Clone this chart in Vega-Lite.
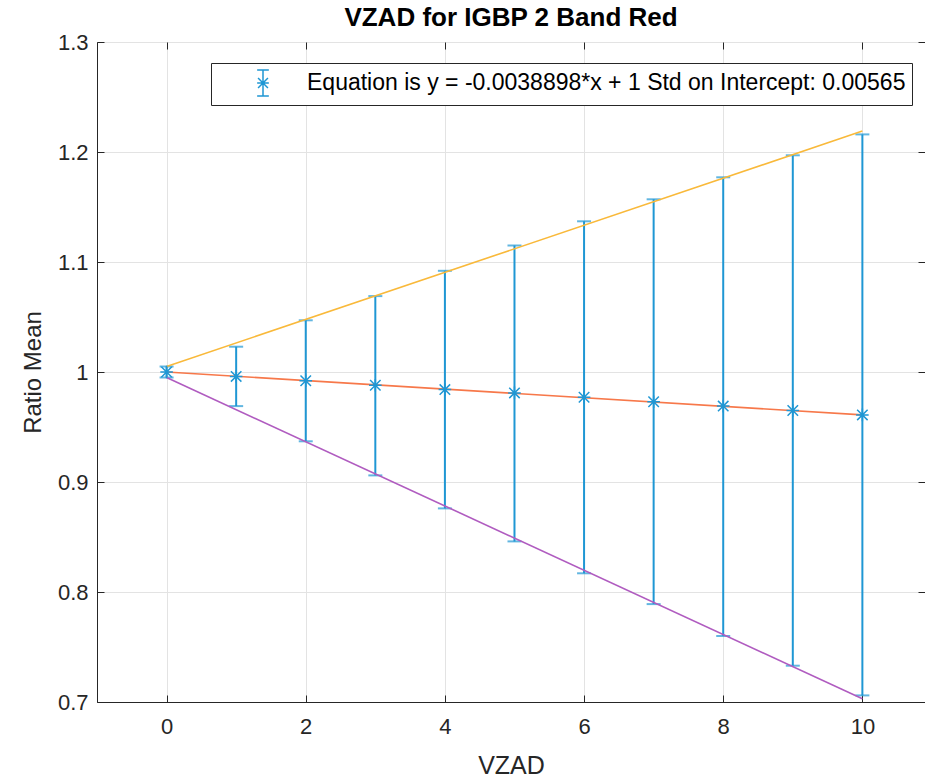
{
  "$schema": "https://vega.github.io/schema/vega-lite/v6.json",
  "width": 828,
  "height": 660,
  "autosize": {"type": "none"},
  "padding": {"left": 97, "top": 42, "right": 0, "bottom": 76},
  "background": "white",
  "title": {
    "text": "VZAD for IGBP 2 Band Red",
    "font": "Liberation Sans",
    "fontSize": 26,
    "fontWeight": "bold",
    "color": "#000000",
    "anchor": "middle",
    "offset": 0
  },
  "config": {
    "view": {"stroke": "#262626", "strokeWidth": 1},
    "axis": {
      "labelFont": "Liberation Sans",
      "titleFont": "Liberation Sans",
      "labelFontSize": 22,
      "titleFontSize": 25,
      "titleFontWeight": "normal",
      "labelColor": "#262626",
      "titleColor": "#262626",
      "domainColor": "#262626",
      "tickColor": "#262626",
      "gridColor": "#e3e3e3",
      "gridWidth": 1
    }
  },
  "datasets": {
    "bars": [
      {"vzad": 0, "mean": 1.000, "lower": 0.995, "upper": 1.005, "series": "Equation is y = -0.0038898*x + 1 Std on Intercept: 0.00565"},
      {"vzad": 1, "mean": 0.996, "lower": 0.969, "upper": 1.023, "series": "Equation is y = -0.0038898*x + 1 Std on Intercept: 0.00565"},
      {"vzad": 2, "mean": 0.992, "lower": 0.937, "upper": 1.047, "series": "Equation is y = -0.0038898*x + 1 Std on Intercept: 0.00565"},
      {"vzad": 3, "mean": 0.988, "lower": 0.906, "upper": 1.069, "series": "Equation is y = -0.0038898*x + 1 Std on Intercept: 0.00565"},
      {"vzad": 4, "mean": 0.984, "lower": 0.876, "upper": 1.092, "series": "Equation is y = -0.0038898*x + 1 Std on Intercept: 0.00565"},
      {"vzad": 5, "mean": 0.981, "lower": 0.846, "upper": 1.115, "series": "Equation is y = -0.0038898*x + 1 Std on Intercept: 0.00565"},
      {"vzad": 6, "mean": 0.977, "lower": 0.817, "upper": 1.137, "series": "Equation is y = -0.0038898*x + 1 Std on Intercept: 0.00565"},
      {"vzad": 7, "mean": 0.973, "lower": 0.789, "upper": 1.157, "series": "Equation is y = -0.0038898*x + 1 Std on Intercept: 0.00565"},
      {"vzad": 8, "mean": 0.969, "lower": 0.760, "upper": 1.177, "series": "Equation is y = -0.0038898*x + 1 Std on Intercept: 0.00565"},
      {"vzad": 9, "mean": 0.965, "lower": 0.733, "upper": 1.197, "series": "Equation is y = -0.0038898*x + 1 Std on Intercept: 0.00565"},
      {"vzad": 10, "mean": 0.961, "lower": 0.706, "upper": 1.216, "series": "Equation is y = -0.0038898*x + 1 Std on Intercept: 0.00565"}
    ],
    "lines": [
      {"vzad": 0, "value": 1.005, "line": "upper"},
      {"vzad": 10, "value": 1.219, "line": "upper"},
      {"vzad": 0, "value": 1.000, "line": "fit"},
      {"vzad": 10, "value": 0.961, "line": "fit"},
      {"vzad": 0, "value": 0.995, "line": "lower"},
      {"vzad": 10, "value": 0.703, "line": "lower"}
    ]
  },
  "resolve": {"axis": {"x": "independent", "y": "independent"}},
  "layer": [
    {
      "data": {"name": "bars"},
      "mark": {"type": "rule", "strokeWidth": 2},
      "encoding": {
        "x": {
          "field": "vzad", "type": "quantitative",
          "scale": {"domain": [-1, 10.9], "nice": false, "zero": false},
          "axis": {"title": "VZAD", "values": [0, 2, 4, 6, 8, 10], "grid": true, "tickSize": -7, "labelPadding": 21, "titlePadding": 16, "domain": true}
        },
        "y": {
          "field": "lower", "type": "quantitative",
          "scale": {"domain": [0.7, 1.3], "nice": false, "zero": false},
          "axis": {"title": "Ratio Mean", "titleFontSize": 24, "values": [0.7, 0.8, 0.9, 1.0, 1.1, 1.2, 1.3], "format": ".1~f", "grid": true, "tickSize": -7, "labelPadding": 16, "titlePadding": 12}
        },
        "y2": {"field": "upper"},
        "color": {
          "field": "series", "type": "nominal",
          "scale": {"range": ["#1f97d4"]},
          "legend": {
            "title": null,
            "orient": "none",
            "legendX": 114,
            "legendY": 21,
            "padding": 6,
            "strokeColor": "#262626",
            "fillColor": "white",
            "labelFont": "Liberation Sans",
            "labelFontSize": 23,
            "labelColor": "#000000",
            "labelLimit": 1000,
            "symbolType": "M0,-1V1M-0.45,-1H0.45M-0.45,1H0.45M-0.38,-0.38L0.38,0.38M-0.38,0.38L0.38,-0.38M-0.45,0H0.45",
            "symbolSize": 676,
            "symbolStrokeWidth": 1.5,
            "symbolFillColor": "transparent",
            "symbolOffset": 32,
            "labelOffset": 30
          }
        }
      }
    },
    {
      "data": {"name": "bars"},
      "mark": {"type": "tick", "orient": "horizontal", "size": 14, "thickness": 2, "color": "#1f97d4"},
      "encoding": {
        "x": {"field": "vzad", "type": "quantitative", "axis": {"orient": "top", "labels": false, "title": null, "grid": false, "tickSize": -7, "values": [0, 2, 4, 6, 8, 10], "domain": false}},
        "y": {"field": "upper", "type": "quantitative", "axis": {"orient": "right", "labels": false, "title": null, "grid": false, "tickSize": -7, "values": [0.7, 0.8, 0.9, 1.0, 1.1, 1.2, 1.3], "domain": false}}
      }
    },
    {
      "data": {"name": "bars"},
      "mark": {"type": "tick", "orient": "horizontal", "size": 14, "thickness": 2, "color": "#1f97d4"},
      "encoding": {
        "x": {"field": "vzad", "type": "quantitative", "axis": null},
        "y": {"field": "lower", "type": "quantitative", "axis": null}
      }
    },
    {
      "data": {"name": "lines"},
      "mark": {"type": "line", "strokeWidth": 1.6},
      "encoding": {
        "x": {"field": "vzad", "type": "quantitative", "axis": null},
        "y": {"field": "value", "type": "quantitative", "axis": null},
        "detail": {"field": "line"},
        "stroke": {
          "field": "line", "type": "nominal", "legend": null,
          "scale": {"domain": ["upper", "fit", "lower"], "range": ["#f9b93a", "#f7784a", "#b05cc0"]}
        }
      }
    },
    {
      "data": {"name": "bars"},
      "mark": {"type": "point", "shape": "M-1,-1L1,1M-1,1L1,-1M0,-1.2V1.2M-1.2,0H1.2", "size": 110, "strokeWidth": 1.5, "color": "#1f97d4", "filled": false, "opacity": 1},
      "encoding": {
        "x": {"field": "vzad", "type": "quantitative", "axis": null},
        "y": {"field": "mean", "type": "quantitative", "axis": null}
      }
    }
  ]
}
